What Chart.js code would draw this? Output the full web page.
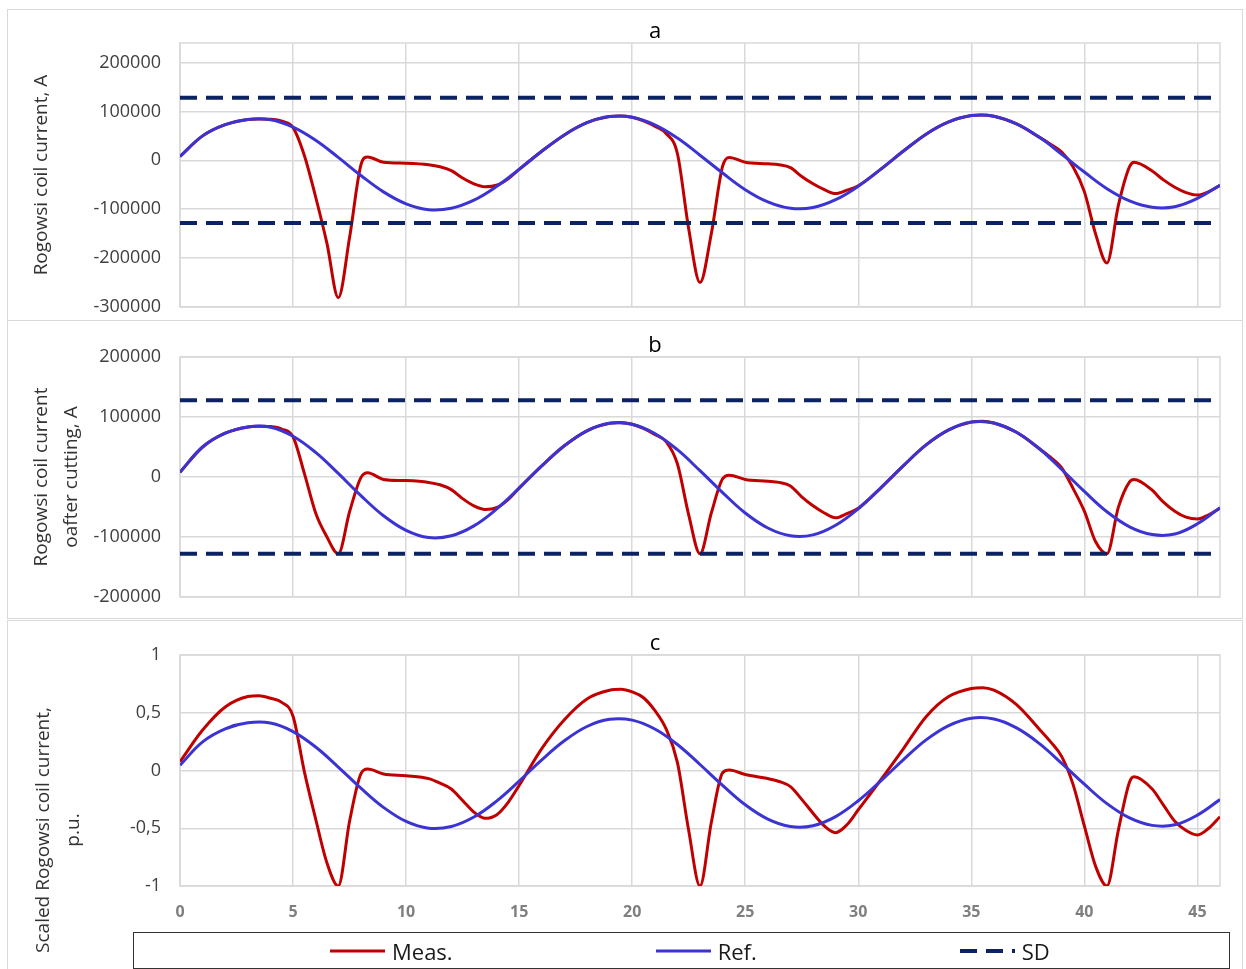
<!DOCTYPE html>
<html lang="en">
<head>
<meta charset="utf-8">
<title>Rogowsi coil current</title>
<script src="https://cdn.jsdelivr.net/npm/chart.js@4.4.1/dist/chart.umd.min.js"></script>
<style>
    html, body { margin: 0; padding: 0; background: #fff; }
    body { position: relative; width: 1246px; height: 969px; overflow: hidden; font-family: 'Open Sans', sans-serif; }
    .panel { position: absolute; left: 7px; width: 1236px; border: 1.5px solid #d9d9d9; box-sizing: border-box; }
    canvas { position: absolute; left: 0; }
    #yTitleC { position: absolute; left: -93px; top: 800px; width: 300px; height: 60px; transform: rotate(-90deg);
               text-align: center; font-size: 19px; line-height: 30px; color: #333; }
    #legend { position: absolute; left: 133px; top: 932px; width: 1097px; height: 37px; box-sizing: border-box;
              border: 1.5px solid #333; display: flex; align-items: center; padding-left: 196px; gap: 203px; }
    .item { display: flex; align-items: center; gap: 7px; font-size: 22px; color: #1a1a1a; }
</style>
</head>
<body>
<div class="panel" style="top:9px;height:312px"></div>
<div class="panel" style="top:320px;height:299px"></div>
<div class="panel" style="top:620px;height:360px"></div>
<canvas id="chartA" width="1246" height="311" style="top:9px"></canvas>
<canvas id="chartB" width="1246" height="298" style="top:320px"></canvas>
<canvas id="chartC" width="1246" height="348" style="top:621px"></canvas>
<div id="yTitleC">Scaled Rogowsi coil current,<br>p.u.</div>
<div id="legend"></div>
<script>
// Time axis of the measured curve (denser round the spikes)
const measX = [0, 1, 2, 3, 3.5, 4, 4.5, 5, 5.5, 6, 6.5, 7, 7.5, 8, 8.3, 9, 10, 11, 11.5, 12, 12.5, 13, 13.5, 14, 14.5,
    15, 16, 17, 18, 19, 19.5, 20, 20.5, 21, 21.5, 22, 22.5, 23, 23.5, 24, 24.3, 25, 26, 26.5, 27, 27.5, 28, 28.5, 29, 29.5,
    30, 31, 32, 33, 34, 35, 35.5, 36, 37, 38, 38.5, 39, 39.5, 40, 40.5, 41, 41.5, 42, 42.2, 43, 43.5, 44, 44.5, 45, 45.5, 46];

// a: measured current, A
const measA = [8000, 50000, 73000, 83500, 84600, 84000, 80000, 67000, 10000, -75000, -170000, -281000, -158000, -10000, 7000,
    -4000, -6000, -9000, -13000, -21000, -36000, -48000, -54000, -51000, -38000, -18500, 18500, 52000, 77000, 89500, 90800,
    88000, 81000, 70000, 55000, 14000, -140000, -250000, -150000, -12000, 6000, -4000, -7000, -9000, -15000, -33000, -48000,
    -60000, -68000, -61000, -52000, -18000, 19000, 53500, 78500, 91500, 92800, 90000, 74500, 47500, 33000, 17000, -13000,
    -64000, -151000, -210000, -93000, -13000, -4000, -22000, -40000, -55000, -66000, -71000, -64000, -51000];

// b: measured current after cutting at the SD level, A
const measB = [8000, 50000, 73000, 83500, 84600, 84000, 80000, 67000, 6000, -60000, -100000, -128000, -58000, -1000, 7000,
    -4000, -6000, -9000, -13000, -21000, -36000, -48000, -54000, -51000, -38000, -18500, 18500, 52000, 77000, 89500, 90800,
    88000, 81000, 71000, 59000, 22000, -63000, -128000, -60000, -3000, 3000, -4000, -7000, -9000, -15000, -33000, -48000,
    -60000, -68000, -61000, -52000, -18000, 19000, 53500, 78500, 91500, 92800, 90000, 74500, 47500, 33000, 15000, -19000,
    -57000, -108000, -128000, -51000, -8000, -4000, -22000, -42000, -57000, -67000, -70000, -63000, -52000];

// c: scaled measured current, p.u.
const measC = [0.076, 0.35, 0.55, 0.64, 0.648, 0.625, 0.59, 0.47, -0.01, -0.42, -0.80, -1.0, -0.44, -0.03, 0.012,
    -0.03, -0.045, -0.07, -0.11, -0.16, -0.26, -0.36, -0.414, -0.385, -0.28, -0.13, 0.19, 0.44, 0.62, 0.695, 0.703,
    0.68, 0.63, 0.52, 0.36, 0.07, -0.52, -1.0, -0.45, -0.02, 0.004, -0.035, -0.07, -0.095, -0.14, -0.25, -0.37,
    -0.48, -0.538, -0.47, -0.34, -0.08, 0.19, 0.466, 0.64, 0.71, 0.717, 0.695, 0.57, 0.36, 0.25, 0.12, -0.12,
    -0.48, -0.83, -1.0, -0.52, -0.10, -0.054, -0.16, -0.30, -0.44, -0.52, -0.558, -0.50, -0.40];

// Reference current, one value per time unit
const refX = [0, 1, 2, 3, 4, 5, 6, 7, 8, 9, 10, 11, 12, 13, 14, 15, 16, 17, 18, 19, 20, 21, 22, 23,
    24, 25, 26, 27, 28, 29, 30, 31, 32, 33, 34, 35, 36, 37, 38, 39, 40, 41, 42, 43, 44, 45, 46];
const refA = [8000, 50000, 73000, 83500, 83000, 68000, 41000, 6000, -31000, -64500, -89000, -101000, -98000, -81500,
    -53500, -18500, 18500, 52000, 77000, 89500, 88000, 72500, 45500, 10500, -26000, -60000, -85000, -98000, -96500,
    -80500, -53000, -18000, 19000, 53500, 78500, 91500, 90000, 74500, 47500, 12500, -24000, -58000, -83000, -96000,
    -95000, -78000, -51000];
const refC = [0.045, 0.248, 0.361, 0.413, 0.411, 0.337, 0.203, 0.030, -0.153, -0.319, -0.441, -0.500, -0.485, -0.403,
    -0.265, -0.092, 0.092, 0.257, 0.381, 0.443, 0.436, 0.359, 0.225, 0.052, -0.129, -0.297, -0.421, -0.485, -0.478,
    -0.399, -0.262, -0.089, 0.094, 0.265, 0.389, 0.453, 0.446, 0.369, 0.235, 0.062, -0.119, -0.287, -0.411, -0.475,
    -0.470, -0.386, -0.252];

// SD thresholds
const sdX = [0, 46];
const sdUpper = [128000, 128000];
const sdLower = [-128000, -128000];

// Tick values of the axes
const xTicks = [0, 5, 10, 15, 20, 25, 30, 35, 40, 45];
const yTicksA = [-300000, -200000, -100000, 0, 100000, 200000];
const yTicksB = [-200000, -100000, 0, 100000, 200000];
const yTicksC = [-1, -0.5, 0, 0.5, 1];

const GRID = '#d9d9d9';
const RED = '#c00000';
const BLUE = '#3c34d2';
const NAVY = '#0b2263';

Chart.defaults.font.family = "'Open Sans', sans-serif";

const pts = (xs, ys) => xs.map((x, i) => ({ x: x, y: ys[i] }));
const toTicks = vals => vals.map(v => ({ value: v }));

// Thin frame round the plot area, like Excel draws it
const plotFrame = {
    id: 'plotFrame',
    beforeDatasetsDraw(chart) {
        const { ctx, chartArea: a } = chart;
        ctx.save();
        ctx.strokeStyle = GRID;
        ctx.lineWidth = 1.5;
        ctx.strokeRect(a.left, a.top, a.right - a.left, a.bottom - a.top);
        ctx.restore();
    }
};

// Legend in a framed box under chart c, built from the chart's datasets
const htmlLegend = {
    id: 'htmlLegend',
    afterUpdate(chart) {
        const box = document.getElementById('legend');
        box.innerHTML = '';
        chart.data.datasets.forEach(ds => {
            const dash = ds.borderDash ? ds.borderDash.join(' ') : 'none';
            const item = document.createElement('div');
            item.className = 'item';
            item.innerHTML = `<svg width="55" height="8"><line x1="0" y1="4" x2="55" y2="4" stroke="${ds.borderColor}"
                stroke-width="${ds.borderWidth}" stroke-dasharray="${dash}"/></svg><span>${ds.label}</span>`;
            box.appendChild(item);
        });
    }
};

function measSet(ys) {
    return { label: 'Meas.', data: pts(measX, ys), borderColor: RED, backgroundColor: RED, borderWidth: 3,
             cubicInterpolationMode: 'monotone', pointRadius: 0, order: 3 };
}
function refSet(ys) {
    return { label: 'Ref.', data: pts(refX, ys), borderColor: BLUE, backgroundColor: BLUE, borderWidth: 3,
             tension: 0.4, pointRadius: 0, order: 2 };
}
function sdSet(ys) {
    return { label: 'SD', data: ys ? pts(sdX, ys) : [], borderColor: NAVY, backgroundColor: NAVY, borderWidth: 4,
             borderDash: [17, 9], borderCapStyle: 'butt', pointRadius: 0, order: 1 };
}

function xScale(showLabels) {
    return {
        type: 'linear', min: 0, max: 46,
        afterBuildTicks: s => { s.ticks = toTicks(xTicks); },
        ticks: { display: showLabels, padding: 17, color: '#7f7f7f', font: { size: 16, weight: 'bold' } },
        grid: { color: GRID, lineWidth: 1.5, drawTicks: false },
        border: { display: false },
        afterFit: s => { s.height = showLabels ? 83 : 0; s.paddingLeft = 0; s.paddingRight = 0; }
    };
}

function yScale(min, max, tickVals, title, fmt) {
    return {
        min: min, max: max,
        afterBuildTicks: s => { s.ticks = toTicks(tickVals); },
        ticks: { padding: 19, color: '#404040', font: { size: 18 }, callback: fmt },
        grid: { color: GRID, lineWidth: 1.5, drawTicks: false },
        border: { display: false },
        title: title
            ? { display: true, text: title, color: '#333', font: { size: 19, lineHeight: 1.58 }, padding: { top: -63, bottom: 0 } }
            : { display: false },
        afterFit: s => { s.width = 90; s.paddingTop = 0; s.paddingBottom = 0; }
    };
}

function makeChart(id, letter, titleTop, padBottom, datasets, x, y, extraPlugins) {
    return new Chart(document.getElementById(id), {
        type: 'line',
        data: { datasets: datasets },
        options: {
            responsive: false,
            animation: false,
            devicePixelRatio: 1,
            events: [],
            layout: { padding: { left: 90, right: 26, top: 0, bottom: padBottom } },
            scales: { x: x, y: y },
            plugins: {
                legend: { display: false },
                tooltip: { enabled: false },
                title: { display: true, text: letter, color: '#000', font: { size: 22, weight: 'normal', lineHeight: 1 },
                         padding: { top: titleTop, bottom: 0 } }
            }
        },
        plugins: [plotFrame].concat(extraPlugins || [])
    });
}

const plain = v => String(v);
const comma = v => String(v).replace('.', ',');

makeChart('chartA', 'a', 12, 13,
    [measSet(measA), refSet(refA), sdSet(sdUpper), sdSet(sdLower)],
    xScale(false), yScale(-300000, 240000, yTicksA, 'Rogowsi coil current, A', plain));

makeChart('chartB', 'b', 15, 21,
    [measSet(measB), refSet(refA), sdSet(sdUpper), sdSet(sdLower)],
    xScale(false), yScale(-200000, 200000, yTicksB, ['Rogowsi coil current', 'oafter cutting, A'], plain));

makeChart('chartC', 'c', 12, 0,
    [measSet(measC), refSet(refC), sdSet(null)],
    xScale(true), yScale(-1, 1, yTicksC, null, comma), [htmlLegend]);
</script>
</body>
</html>
